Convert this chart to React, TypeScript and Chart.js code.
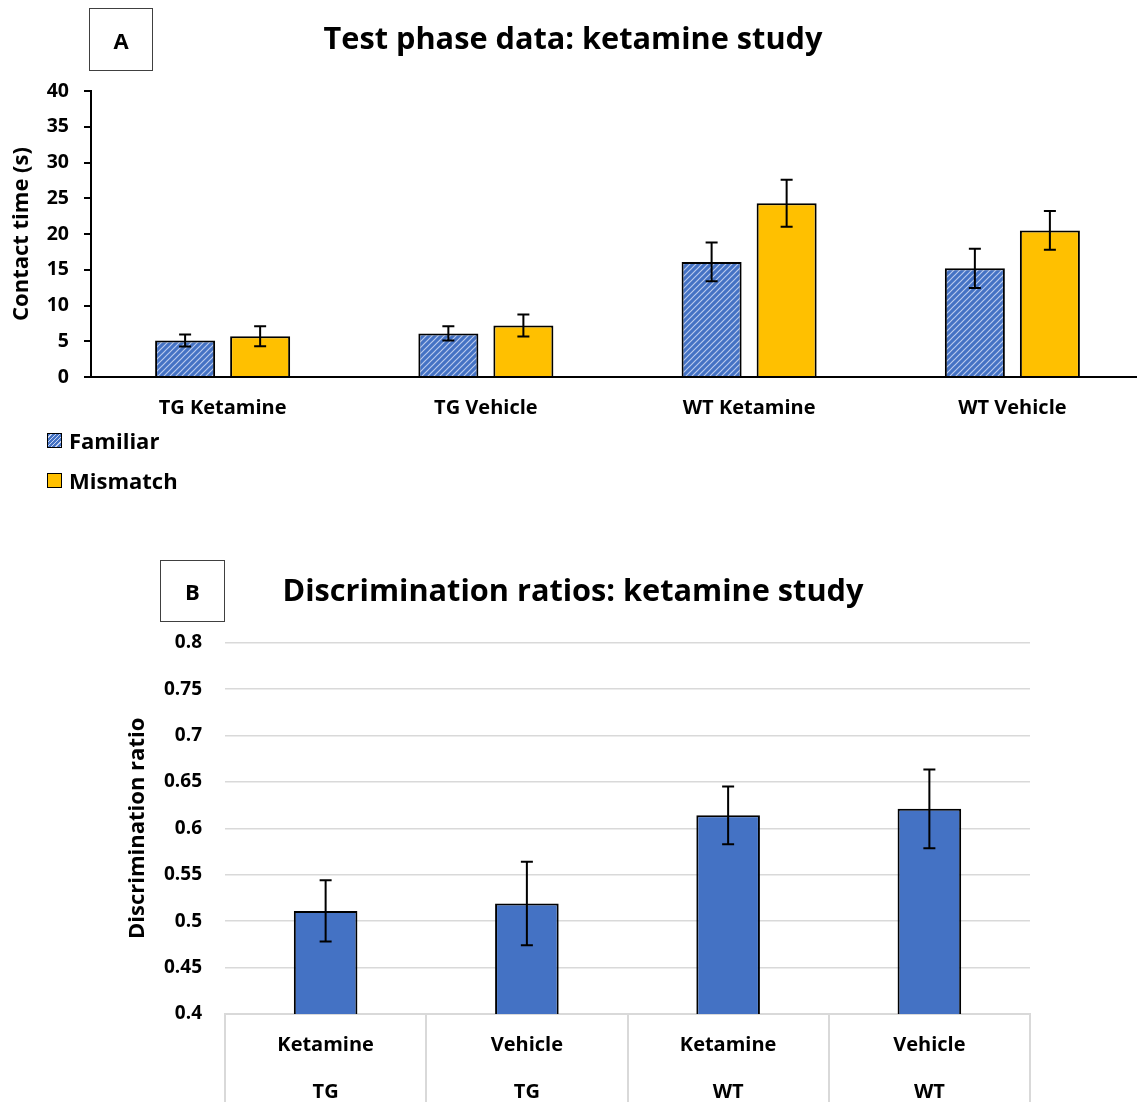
import React, { useEffect, useRef } from "react";
import { Chart, registerables } from "chart.js";

Chart.register(...registerables);

// ---------- data ----------
const groupsA = ["TG Ketamine", "TG Vehicle", "WT Ketamine", "WT Vehicle"];
const familiar = [5.1, 6.1, 16.1, 15.2];
const familiarErr = [0.85, 1.0, 2.7, 2.75];
const mismatch = [5.7, 7.2, 24.3, 20.5];
const mismatchErr = [1.4, 1.55, 3.3, 2.7];
const yMinA = 0;
const yMaxA = 40;
const yStepA = 5;

const groupsB = [
  ["Ketamine", "TG"],
  ["Vehicle", "TG"],
  ["Ketamine", "WT"],
  ["Vehicle", "WT"],
];
const ratios = [0.511, 0.519, 0.614, 0.621];
const ratioErr = [0.033, 0.045, 0.031, 0.0425];
const yMinB = 0.4;
const yMaxB = 0.8;
const yStepB = 0.05;

const titleA = "Test phase data: ketamine study";
const titleB = "Discrimination ratios: ketamine study";
const yTitleA = "Contact time (s)";
const yTitleB = "Discrimination ratio";
const seriesNames = ["Familiar", "Mismatch"];

// ---------- style ----------
const FONT = '"Open Sans", "Noto Sans", sans-serif';
const BLUE = "#4472C4";
const GOLD = "#FFC000";

function makePattern(): CanvasPattern | string {
  const c = document.createElement("canvas");
  c.width = 6;
  c.height = 6;
  const g = c.getContext("2d");
  if (!g) return BLUE;
  g.fillStyle = BLUE;
  g.fillRect(0, 0, 6, 6);
  g.strokeStyle = "rgba(235,240,255,0.7)";
  g.lineWidth = 1.2;
  g.beginPath();
  g.moveTo(0, 6);
  g.lineTo(6, 0);
  g.moveTo(-1, 1);
  g.lineTo(1, -1);
  g.moveTo(5, 7);
  g.lineTo(7, 5);
  g.stroke();
  return g.createPattern(c, "repeat") || BLUE;
}

const errorBarPlugin = {
  id: "errorBars",
  afterDatasetsDraw(chart: any) {
    const ctx = chart.ctx;
    const ys = chart.scales.y;
    chart.data.datasets.forEach((ds: any, i: number) => {
      const errs = ds.errors;
      if (!errs) return;
      const meta = chart.getDatasetMeta(i);
      meta.data.forEach((el: any, j: number) => {
        const v = ds.data[j];
        const e = errs[j];
        const x = el.x;
        const top = ys.getPixelForValue(v + e);
        const bot = ys.getPixelForValue(v - e);
        ctx.save();
        ctx.strokeStyle = "#000";
        ctx.lineWidth = 2;
        ctx.beginPath();
        ctx.moveTo(x, top);
        ctx.lineTo(x, bot);
        ctx.moveTo(x - 6, top);
        ctx.lineTo(x + 6, top);
        ctx.moveTo(x - 6, bot);
        ctx.lineTo(x + 6, bot);
        ctx.stroke();
        ctx.restore();
      });
    });
  },
};

export default function App() {
  const refA = useRef<HTMLCanvasElement>(null);
  const refB = useRef<HTMLCanvasElement>(null);

  useEffect(() => {
    if (!refA.current || !refB.current) return;
    const pattern = makePattern();

    const chartA = new Chart(refA.current, {
      type: "bar",
      data: {
        labels: groupsA,
        datasets: [
          {
            label: seriesNames[0],
            data: familiar,
            backgroundColor: pattern as any,
            borderColor: "#000",
            borderWidth: 2,
            categoryPercentage: 0.57,
            barPercentage: 0.8,
            errors: familiarErr,
          } as any,
          {
            label: seriesNames[1],
            data: mismatch,
            backgroundColor: GOLD,
            borderColor: "#000",
            borderWidth: 2,
            categoryPercentage: 0.57,
            barPercentage: 0.8,
            errors: mismatchErr,
          } as any,
        ],
      },
      options: {
        animation: false,
        responsive: false,
        maintainAspectRatio: false,
        layout: { padding: { top: 91, left: 0, right: 0, bottom: 0 } },
        plugins: {
          legend: { display: false },
          title: { display: false },
          tooltip: { enabled: false },
        },
        scales: {
          x: {
            grid: { display: false, drawTicks: false },
            border: { display: true, color: "#000", width: 2 },
            ticks: {
              color: "#000",
              padding: 19,
              maxRotation: 0,
              font: { family: FONT, size: 20, weight: "bold" },
            },
            afterFit: (s: any) => {
              s.height = 53;
            },
          },
          y: {
            min: yMinA,
            max: yMaxA,
            ticks: {
              stepSize: yStepA,
              color: "#000",
              padding: 15,
              font: { family: FONT, size: 19.5, weight: "bold" },
            },
            grid: {
              drawOnChartArea: false,
              drawTicks: true,
              tickLength: 7,
              color: "#000",
              lineWidth: 2,
            },
            border: { display: true, color: "#000", width: 2 },
            title: {
              display: true,
              text: yTitleA,
              color: "#000",
              padding: { top: 9, bottom: 0 },
              font: { family: FONT, size: 22, weight: "bold" },
            },
            afterFit: (s: any) => {
              s.width = 91;
            },
          },
        },
      } as any,
      plugins: [errorBarPlugin],
    });

    const chartB = new Chart(refB.current, {
      type: "bar",
      data: {
        labels: groupsB as any,
        datasets: [
          {
            label: yTitleB,
            data: ratios,
            backgroundColor: BLUE,
            borderColor: "#000",
            borderWidth: 2,
            categoryPercentage: 1,
            barPercentage: 0.316,
            errors: ratioErr,
          } as any,
        ],
      },
      options: {
        animation: false,
        responsive: false,
        maintainAspectRatio: false,
        layout: { padding: { top: 102.7, left: 0, right: 107, bottom: 0 } },
        plugins: {
          legend: { display: false },
          title: { display: false },
          tooltip: { enabled: false },
        },
        scales: {
          x: {
            offset: true,
            grid: {
              display: true,
              offset: true,
              drawOnChartArea: false,
              drawTicks: true,
              tickLength: 88,
              color: "#d9d9d9",
              lineWidth: 2,
            },
            border: { display: true, color: "#d9d9d9", width: 2 },
            ticks: {
              color: "#000",
              padding: -80.5,
              maxRotation: 0,
              autoSkip: false,
              font: { family: FONT, size: 20, weight: "bold", lineHeight: 2.35 },
            },
            afterFit: (s: any) => {
              s.height = 88;
            },
          },
          y: {
            min: yMinB,
            max: yMaxB,
            ticks: {
              stepSize: yStepB,
              color: "#000",
              padding: 23,
              font: { family: FONT, size: 19, weight: "bold" },
              callback: (v: any) => String(Number(Number(v).toFixed(2))),
            },
            grid: {
              drawTicks: false,
              color: "#d9d9d9",
              lineWidth: 1.5,
            },
            border: { display: false },
            title: {
              display: true,
              text: yTitleB,
              color: "#000",
              padding: { top: 125, bottom: 0 },
              font: { family: FONT, size: 22, weight: "bold" },
            },
            afterFit: (s: any) => {
              s.width = 225;
            },
          },
        },
      } as any,
      plugins: [errorBarPlugin],
    });

    return () => {
      chartA.destroy();
      chartB.destroy();
    };
  }, []);

  const boxStyle = (left: number, top: number, w: number, h: number): React.CSSProperties => ({
    position: "absolute",
    left,
    top,
    width: w,
    height: h,
    boxSizing: "border-box",
    border: "1.5px solid #404040",
    display: "flex",
    alignItems: "center",
    justifyContent: "center",
    fontFamily: FONT,
    fontWeight: 700,
    fontSize: 22,
    color: "#000",
  });

  const titleStyle = (cy: number): React.CSSProperties => ({
    position: "absolute",
    left: 0,
    width: 1146,
    top: cy - 20,
    height: 40,
    lineHeight: "40px",
    textAlign: "center",
    fontFamily: FONT,
    fontWeight: 700,
    fontSize: 30.7,
    color: "#000",
    whiteSpace: "nowrap",
  });

  const legendRow = (top: number): React.CSSProperties => ({
    position: "absolute",
    left: 47,
    top,
    height: 28,
    display: "flex",
    alignItems: "center",
    fontFamily: FONT,
    fontWeight: 700,
    fontSize: 22,
    color: "#000",
  });

  const swatch = (bg: string): React.CSSProperties => ({
    width: 15,
    height: 15,
    boxSizing: "border-box",
    border: "1.5px solid #000",
    background: bg,
    marginRight: 7,
  });

  return (
    <div
      style={{
        position: "absolute",
        left: 0,
        top: 0,
        width: 1137,
        height: 1102,
        overflow: "hidden",
        background: "#fff",
      }}
    >
      <canvas
        ref={refA}
        width={1144}
        height={430}
        style={{ position: "absolute", left: 0, top: 0, display: "block" }}
      />
      <canvas
        ref={refB}
        width={1137}
        height={562}
        style={{ position: "absolute", left: 0, top: 540, display: "block" }}
      />
      <div style={boxStyle(89, 8, 64, 63)}>A</div>
      <div style={boxStyle(160, 560, 65, 62)}>B</div>
      <div style={titleStyle(37)}>{titleA}</div>
      <div style={titleStyle(589)}>{titleB}</div>
      <div style={legendRow(426)}>
        <div
          style={swatch(
            `repeating-linear-gradient(135deg, ${BLUE} 0px, ${BLUE} 2px, #c9d6f2 2px, #c9d6f2 3px)`
          )}
        />
        <span>{seriesNames[0]}</span>
      </div>
      <div style={legendRow(466)}>
        <div style={swatch(GOLD)} />
        <span>{seriesNames[1]}</span>
      </div>
    </div>
  );
}
